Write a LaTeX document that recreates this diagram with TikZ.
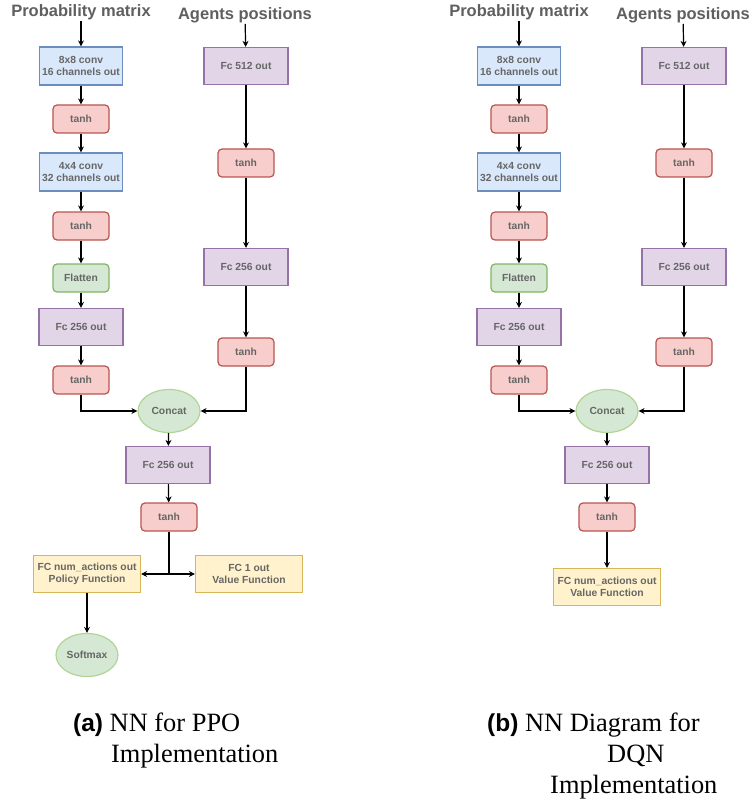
\documentclass[tikz,border=0pt]{standalone}
\usepackage{fontspec}
\setmainfont{Liberation Serif}
\setsansfont{Liberation Sans}
\usetikzlibrary{arrows.meta,shapes.geometric}

\definecolor{txtgray}{HTML}{666666}
\definecolor{titlegray}{HTML}{5F5F5F}
\definecolor{convfill}{HTML}{DAE8FC}
\definecolor{convline}{HTML}{6C8EBF}
\definecolor{actfill}{HTML}{F8CECC}
\definecolor{actline}{HTML}{B85450}
\definecolor{flatfill}{HTML}{D5E8D4}
\definecolor{flatline}{HTML}{82B366}
\definecolor{mergeline}{HTML}{B0D597}
\definecolor{fcfill}{HTML}{E1D5E7}
\definecolor{fcline}{HTML}{9673A6}
\definecolor{outfill}{HTML}{FFF2CC}
\definecolor{outline}{HTML}{D6B656}

\tikzset{
  layer/.style={draw,line width=1.2pt,inner sep=0pt,align=center,text=txtgray,
    font=\fontsize{10.3}{12}\selectfont\sffamily\bfseries},
  conv/.style={layer,draw=convline,fill=convfill,minimum width=83pt,minimum height=38pt},
  act/.style={layer,draw=actline,fill=actfill,rounded corners=4pt,minimum width=56pt,minimum height=28pt},
  flat/.style={layer,draw=flatline,fill=flatfill,rounded corners=4pt,minimum width=56pt,minimum height=28pt},
  fc/.style={layer,draw=fcline,fill=fcfill,minimum width=84pt,minimum height=37pt},
  outbox/.style={layer,draw=outline,fill=outfill,minimum width=107pt,minimum height=37pt},
  merge/.style={layer,ellipse,draw=mergeline,fill=flatfill,minimum width=62pt,minimum height=43pt},
  input/.style={inner sep=1pt,text=titlegray,font=\fontsize{16.5}{18}\selectfont\sffamily\bfseries},
  arr/.style={-{Stealth[length=6pt,width=6pt]},line width=1.2pt},
  capfont/.style={inner sep=0pt,anchor=base west,font=\fontsize{26.4}{31}\selectfont}
}

\begin{document}
\begin{tikzpicture}[x=1pt,y=-1pt]
        \useasboundingbox (0,0) rectangle (751,805);
        %% (a) PPO: inputs
        \node[input] (pin) at (81,12) {Probability matrix};
        \node[input] (ain) at (245,15) {Agents positions};
        %% (a) conv branch
        \node[conv] (pconv1) at (81,66) {8x8 conv\\16 channels out};
        \node[act] (ptanh1) at (81,119) {tanh};
        \node[conv] (pconv2) at (81,172) {4x4 conv\\32 channels out};
        \node[act] (ptanh2) at (81,226) {tanh};
        \node[flat] (pflat) at (81,278) {Flatten};
        \node[fc] (pfc) at (81,327) {Fc 256 out};
        \node[act] (ptanh3) at (81,380) {tanh};
        %% (a) position branch
        \node[fc] (afc1) at (246,66) {Fc 512 out};
        \node[act] (atanh1) at (246,163) {tanh};
        \node[fc] (afc2) at (246,267) {Fc 256 out};
        \node[act] (atanh2) at (246,352) {tanh};
        %% (a) head
        \node[merge] (concat) at (169,411) {Concat};
        \node[fc] (fc) at (168,465) {Fc 256 out};
        \node[act] (tanh) at (169,517) {tanh};
        \node[outbox] (policy) at (87,574) {FC num\_actions out\\Policy Function};
        \node[outbox] (value) at (249,574) {FC 1 out\\Value Function};
        \node[merge] (softmax) at (87,655) {Softmax};
        \coordinate (split) at (tanh |- policy);
        %% (a) arrows
        \draw[arr] (pin) -- (pconv1);
        \draw[arr] (pconv1) -- (ptanh1);
        \draw[arr] (ptanh1) -- (pconv2);
        \draw[arr] (pconv2) -- (ptanh2);
        \draw[arr] (ptanh2) -- (pflat);
        \draw[arr] (pflat) -- (pfc);
        \draw[arr] (pfc) -- (ptanh3);
        \draw[arr] (ain) -- (afc1);
        \draw[arr] (afc1) -- (atanh1);
        \draw[arr] (atanh1) -- (afc2);
        \draw[arr] (afc2) -- (atanh2);
        \draw[arr] (ptanh3) |- (concat);
        \draw[arr] (atanh2) |- (concat);
        \draw[arr] (concat) -- (fc);
        \draw[arr] (fc) -- (tanh);
        \draw[line width=1.2pt] (tanh) -- (split);
        \draw[arr] (split) -- (policy);
        \draw[arr] (split) -- (value);
        \draw[arr] (policy) -- (softmax);

        %% (b) DQN: inputs
        \node[input] (qin) at (519,12) {Probability matrix};
        \node[input] (bin) at (683,15) {Agents positions};
        %% (b) conv branch
        \node[conv] (qconv1) at (519,66) {8x8 conv\\16 channels out};
        \node[act] (qtanh1) at (519,119) {tanh};
        \node[conv] (qconv2) at (519,172) {4x4 conv\\32 channels out};
        \node[act] (qtanh2) at (519,226) {tanh};
        \node[flat] (qflat) at (519,278) {Flatten};
        \node[fc] (qfc) at (519,327) {Fc 256 out};
        \node[act] (qtanh3) at (519,380) {tanh};
        %% (b) position branch
        \node[fc] (bfc1) at (684,66) {Fc 512 out};
        \node[act] (btanh1) at (684,163) {tanh};
        \node[fc] (bfc2) at (684,267) {Fc 256 out};
        \node[act] (btanh2) at (684,352) {tanh};
        %% (b) head
        \node[merge] (qconcat) at (607,411) {Concat};
        \node[fc] (qhfc) at (607,465) {Fc 256 out};
        \node[act] (qhtanh) at (607,517) {tanh};
        \node[outbox] (qvalue) at (607,587) {FC num\_actions out\\Value Function};
        %% (b) arrows
        \draw[arr] (qin) -- (qconv1);
        \draw[arr] (qconv1) -- (qtanh1);
        \draw[arr] (qtanh1) -- (qconv2);
        \draw[arr] (qconv2) -- (qtanh2);
        \draw[arr] (qtanh2) -- (qflat);
        \draw[arr] (qflat) -- (qfc);
        \draw[arr] (qfc) -- (qtanh3);
        \draw[arr] (bin) -- (bfc1);
        \draw[arr] (bfc1) -- (btanh1);
        \draw[arr] (btanh1) -- (bfc2);
        \draw[arr] (bfc2) -- (btanh2);
        \draw[arr] (qtanh3) |- (qconcat);
        \draw[arr] (btanh2) |- (qconcat);
        \draw[arr] (qconcat) -- (qhfc);
        \draw[arr] (qhfc) -- (qhtanh);
        \draw[arr] (qhtanh) -- (qvalue);

        %% Captions
        \node[capfont] (capa1) at (73,731) {{\fontsize{24.5}{31}\selectfont\sffamily\bfseries (a)} NN for PPO};
        \node[capfont] (capa2) at (111,762) {Implementation};
        \node[capfont] (capb1) at (487,731) {{\fontsize{24.5}{31}\selectfont\sffamily\bfseries (b)} NN Diagram for};
        \node[capfont] (capb2) at (607,762) {DQN};
        \node[capfont] (capb3) at (550,793) {Implementation};
    \end{tikzpicture}
\end{document}
